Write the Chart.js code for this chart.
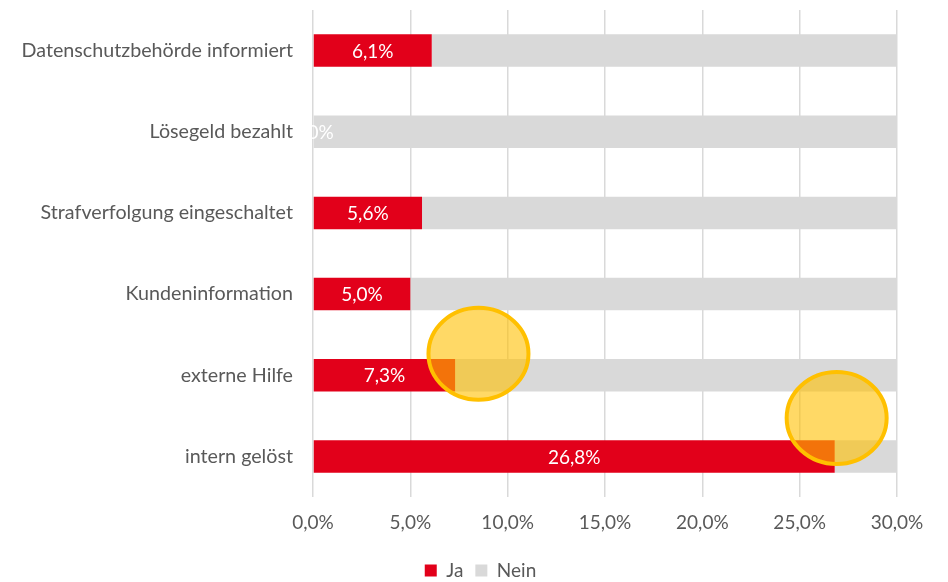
<!DOCTYPE html>
<html>
<head>
<meta charset="utf-8">
<script src="https://cdn.jsdelivr.net/npm/chart.js@4.4.1/dist/chart.umd.min.js"></script>
<style>
  html, body { margin: 0; padding: 0; background: #fff; }
  #wrap { width: 948px; height: 582px; position: relative; }
</style>
</head>
<body>
<div id="wrap"><canvas id="chart"></canvas></div>
<script>
// Daten
const categories = ['Datenschutzbehörde informiert', 'Lösegeld bezahlt', 'Strafverfolgung eingeschaltet', 'Kundeninformation', 'externe Hilfe', 'intern gelöst'];
const jaValues = [6.1, 0.0, 5.6, 5.0, 7.3, 26.8];
const neinValues = [93.9, 100.0, 94.4, 95.0, 92.7, 73.2];
const xTicks = [0, 5, 10, 15, 20, 25, 30];
// Markierungen (x in %, y als Kategorie-Index)
const markerX = [8.5, 26.9];
const markerY = [3.735, 4.526];

const fontFamily = 'Lato, "Open Sans", sans-serif';
const fontSize = 19;
const fmt = v => v.toFixed(1).replace('.', ',') + '%';

// Werte in den roten Balken
const barLabels = {
    id: 'barLabels',
    afterDatasetsDraw(chart) {
        const ctx = chart.ctx;
        const meta = chart.getDatasetMeta(0);
        ctx.save();
        ctx.font = fontSize + 'px ' + fontFamily;
        ctx.fillStyle = '#ffffff';
        ctx.textAlign = 'center';
        ctx.textBaseline = 'middle';
        meta.data.forEach((bar, i) => {
            const cx = (bar.x + bar.base) / 2;
            ctx.fillText(fmt(jaValues[i]), cx, bar.y + 1);
        });
        ctx.restore();
    }
};

// Gelbe Kreise
const circles = {
    id: 'circles',
    afterDraw(chart) {
        const ctx = chart.ctx;
        const xs = chart.scales.x, ys = chart.scales.y;
        ctx.save();
        markerX.forEach((mx, i) => {
            const px = xs.getPixelForValue(mx);
            const py = ys.getPixelForValue(markerY[i]);
            ctx.beginPath();
            ctx.ellipse(px, py, 50, 46, 0, 0, Math.PI * 2);
            ctx.fillStyle = 'rgba(255, 192, 0, 0.6)';
            ctx.fill();
            ctx.lineWidth = 4;
            ctx.strokeStyle = '#FFC000';
            ctx.stroke();
        });
        ctx.restore();
    }
};

// Legende verschieben (zentriert unter dem Bild, weiter unten)
const legendShift = {
    id: 'legendShift',
    afterLayout(chart) {
        const lg = chart.legend;
        if (lg) {
            lg.left += 32;
            lg.right += 32;
            lg.top += 8;
            lg.bottom += 8;
        }
    }
};

new Chart(document.getElementById('chart'), {
    type: 'bar',
    data: {
        labels: categories,
        datasets: [
            { label: 'Ja', data: jaValues, backgroundColor: '#E2001A', barPercentage: 0.8, categoryPercentage: 0.5 },
            { label: 'Nein', data: neinValues, backgroundColor: '#D9D9D9', barPercentage: 0.8, categoryPercentage: 0.5 }
        ]
    },
    options: {
        indexAxis: 'y',
        responsive: true,
        maintainAspectRatio: false,
        animation: false,
        layout: { padding: { top: 10, right: 51, bottom: 0, left: 0 } },
        scales: {
            x: {
                stacked: true,
                min: 0,
                max: 30,
                afterBuildTicks: axis => { axis.ticks = xTicks.map(v => ({ value: v })); },
                afterFit: axis => { axis.height = 44; },
                grid: { color: '#D9D9D9', lineWidth: 1.5, drawTicks: false },
                border: { display: false },
                ticks: {
                    padding: 14,
                    color: '#595959',
                    font: { family: fontFamily, size: fontSize },
                    callback: v => fmt(v)
                }
            },
            y: {
                stacked: true,
                afterFit: axis => {
                    axis.width = 313;
                    axis.paddingTop = 0;
                    axis.paddingBottom = 0;
                },
                grid: { display: false, drawTicks: false },
                border: { display: false },
                ticks: {
                    padding: 20,
                    color: '#595959',
                    font: { family: fontFamily, size: 19.7 }
                }
            }
        },
        plugins: {
            legend: {
                position: 'bottom',
                labels: {
                    boxWidth: 12,
                    boxHeight: 12,
                    padding: 12,
                    color: '#595959',
                    font: { family: fontFamily, size: fontSize }
                }
            },
            tooltip: { enabled: false }
        }
    },
    plugins: [barLabels, circles, legendShift]
});
</script>
</body>
</html>
